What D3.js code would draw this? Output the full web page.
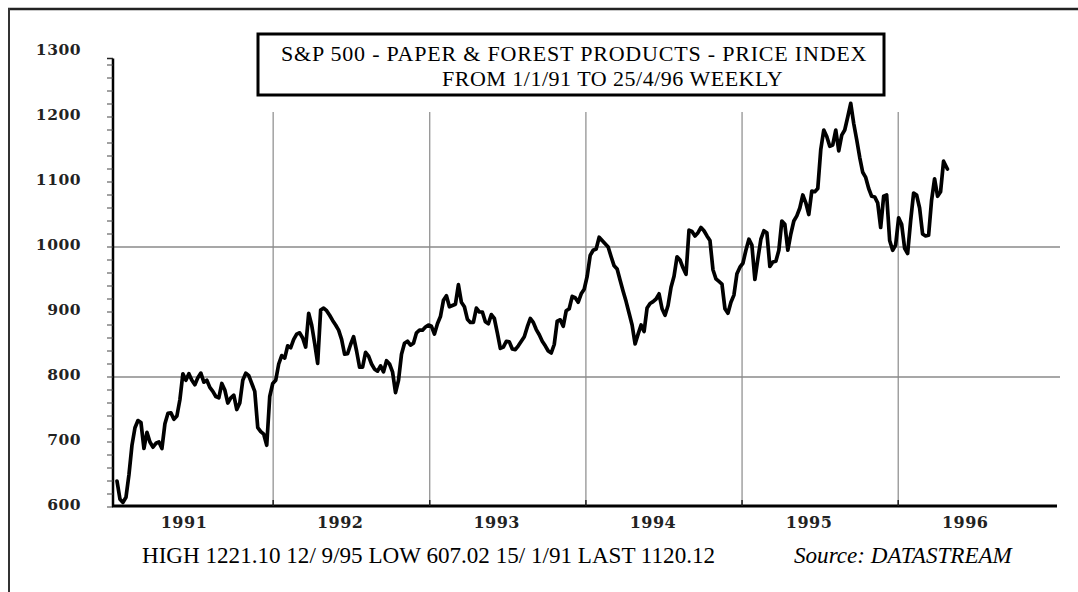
<!DOCTYPE html>
<html>
<head>
<meta charset="utf-8">
<script src="https://cdn.jsdelivr.net/npm/d3@7"></script>
<style>
  html, body { margin: 0; padding: 0; background: #fff; }
  svg { display: block; }
  .serif { font-family: "Liberation Serif", "Times New Roman", Times, serif; }
  .num { font-family: "DejaVu Serif", "Liberation Serif", serif; }
</style>
</head>
<body>
<svg id="chart" width="1078" height="592"></svg>
<script>
// ---- data (weekly closes) ----
const v1991 = [640,612,607,615,650,695,722,733,730,690,715,700,692,698,700,690,728,744,745,735,740,765,805,795,805,795,788,799,806,792,795,784,778,770,768,790,780,760,768,772,750,760,795,806,802,790,778,722,716,712,695,770];
const v1992 = [790,795,820,833,829,848,845,858,866,868,860,846,898,880,852,821,903,906,902,895,887,880,872,858,835,836,850,862,840,815,815,838,832,820,812,809,817,808,825,820,808,776,795,835,852,855,849,852,868,872,872,877];
const v1993 = [880,878,866,882,893,918,925,908,910,912,942,915,908,889,884,884,906,900,900,885,882,896,890,868,844,846,855,854,843,842,848,855,862,877,890,884,873,865,855,848,840,837,850,886,888,878,902,905,924,922,915,928,935];
const v1994 = [955,987,995,997,1015,1010,1005,1000,985,971,966,949,932,916,898,880,851,866,880,870,906,913,916,920,928,905,895,910,938,955,985,980,968,958,1026,1024,1017,1022,1030,1025,1017,1010,965,951,947,943,905,898,915,926,959,969];
const v1995 = [975,995,1012,1003,950,982,1012,1025,1022,970,977,978,995,1040,1035,995,1020,1040,1048,1060,1080,1068,1050,1086,1085,1090,1150,1180,1170,1155,1157,1180,1148,1172,1180,1200,1221,1190,1165,1138,1115,1107,1090,1078,1077,1068,1030,1078,1080,1010,995,1003];
const v1996 = [1045,1035,998,990,1040,1083,1080,1060,1020,1017,1018,1072,1105,1078,1085,1132,1120];

const yTicks = [600,700,800,900,1000,1100,1200,1300];
const gridValues = [800,1000];
const yearLabels = ["1991","1992","1993","1994","1995","1996"];
const titleLine1 = "S&P 500 - PAPER & FOREST PRODUCTS - PRICE INDEX";
const titleLine2 = "FROM 1/1/91 TO 25/4/96 WEEKLY";
const footerText = "HIGH 1221.10 12/ 9/95 LOW 607.02 15/ 1/91 LAST 1120.12";
const sourceText = "Source: DATASTREAM";

const startDate = new Date(1991, 0, 1);
const lastDate = new Date(1996, 3, 25);

const values = [].concat(v1991, v1992, v1993, v1994, v1995, v1996);
const data = values.map((v, k) => ({
  date: k === values.length - 1 ? lastDate : d3.timeDay.offset(startDate, 7 * k),
  value: v
}));

// ---- drawing ----
const svg = d3.select("#chart");
const x = d3.scaleTime()
  .domain([new Date(1991, 0, 1), new Date(1997, 0, 1)])
  .range([117, 1054.8]);
const y = d3.scaleLinear().domain([600, 1300]).range([507, 52]);

const axisX0 = 113, axisX1 = 1057, axisY = 506;

// outer frame (scan border)
svg.append("line").attr("x1", 8).attr("x2", 1078).attr("y1", 9).attr("y2", 9)
  .attr("stroke", "#222").attr("stroke-width", 2.5);
svg.append("line").attr("x1", 9).attr("x2", 9).attr("y1", 8).attr("y2", 592)
  .attr("stroke", "#333").attr("stroke-width", 2);

// horizontal grid lines
svg.selectAll(".hgrid").data(gridValues).enter().append("line")
  .attr("x1", axisX0).attr("x2", axisX1 + 3)
  .attr("y1", d => y(d)).attr("y2", d => y(d))
  .attr("stroke", "#8a8a8a").attr("stroke-width", 1.3);

// vertical grid lines at year boundaries
const yearStarts = d3.range(1992, 1997).map(yr => new Date(yr, 0, 1));
svg.selectAll(".vgrid").data(yearStarts).enter().append("line")
  .attr("x1", d => x(d)).attr("x2", d => x(d))
  .attr("y1", 112).attr("y2", axisY)
  .attr("stroke", "#8a8a8a").attr("stroke-width", 1.2);

// y axis line and minor ticks
svg.append("line").attr("x1", axisX0).attr("x2", axisX0)
  .attr("y1", y(1290)).attr("y2", axisY + 1)
  .attr("stroke", "#000").attr("stroke-width", 2.5);
svg.selectAll(".ytick").data(d3.range(600, 1300, 20)).enter().append("line")
  .attr("x1", axisX0 - 6).attr("x2", axisX0)
  .attr("y1", d => y(d)).attr("y2", d => y(d))
  .attr("stroke", "#444").attr("stroke-width", 1);
svg.append("line").attr("x1", axisX0 - 6).attr("x2", axisX0)
  .attr("y1", y(1290)).attr("y2", y(1290)).attr("stroke", "#222").attr("stroke-width", 1.5);

svg.selectAll(".ylab").data(yTicks).enter().append("text")
  .attr("class", "num")
  .attr("x", 81).attr("y", d => y(d) - 3)
  .attr("text-anchor", "end").attr("dominant-baseline", "central")
  .attr("font-size", 15.5).attr("font-weight", "bold")
  .attr("letter-spacing", 0.5).attr("fill", "#222")
  .text(d => d);

// x axis
svg.append("line").attr("x1", axisX0 - 1).attr("x2", axisX1)
  .attr("y1", axisY).attr("y2", axisY)
  .attr("stroke", "#000").attr("stroke-width", 3.2);
svg.selectAll(".xtick").data(yearStarts).enter().append("line")
  .attr("x1", d => x(d)).attr("x2", d => x(d))
  .attr("y1", axisY - 6).attr("y2", axisY)
  .attr("stroke", "#222").attr("stroke-width", 1.5);

svg.selectAll(".xlab").data(yearLabels).enter().append("text")
  .attr("class", "num")
  .attr("x", d => x(new Date(+d, 0, 1)) + 67)
  .attr("y", 528)
  .attr("text-anchor", "middle")
  .attr("font-size", 16).attr("font-weight", "bold")
  .attr("letter-spacing", 0.5).attr("fill", "#222")
  .text(d => d);

// data line
const line = d3.line().x(d => x(d.date)).y(d => y(d.value)).curve(d3.curveLinear);
svg.append("path").datum(data)
  .attr("d", line)
  .attr("fill", "none").attr("stroke", "#000")
  .attr("stroke-width", 3.7).attr("stroke-linejoin", "round").attr("stroke-linecap", "round");

// title box
svg.append("rect").attr("x", 258).attr("y", 34).attr("width", 626).attr("height", 61)
  .attr("fill", "#fff").attr("stroke", "#000").attr("stroke-width", 3);
svg.append("text").attr("class", "serif").attr("x", 281).attr("y", 61)
  .attr("font-size", 22).attr("letter-spacing", 0.8).attr("fill", "#000")
  .text(titleLine1);
svg.append("text").attr("class", "serif").attr("x", 442).attr("y", 86)
  .attr("font-size", 22).attr("letter-spacing", 0.5).attr("fill", "#000")
  .text(titleLine2);

// footer
svg.append("text").attr("class", "serif").attr("x", 142).attr("y", 563)
  .attr("font-size", 23.1).attr("fill", "#000")
  .text(footerText);
svg.append("text").attr("class", "serif").attr("x", 794).attr("y", 563)
  .attr("font-style", "italic")
  .attr("font-size", 23.1).attr("fill", "#000")
  .text(sourceText);
</script>
</body>
</html>
